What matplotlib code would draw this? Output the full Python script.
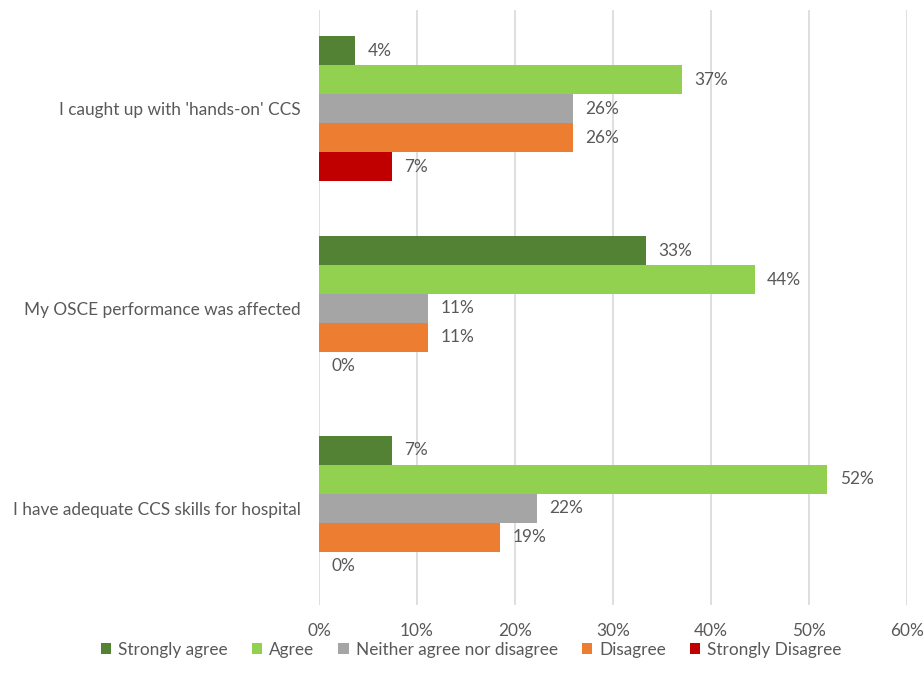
import numpy as np
import matplotlib
matplotlib.use("Agg")
from matplotlib import pyplot as plt
from matplotlib.ticker import FuncFormatter

plt.rcParams['font.family'] = ['Lato', 'DejaVu Sans']

statements = ["I caught up with 'hands-on' CCS",
              "My OSCE performance was affected",
              "I have adequate CCS skills for hospital"]
responses = ["Strongly agree", "Agree", "Neither agree nor disagree",
             "Disagree", "Strongly Disagree"]
colors = ["#548235", "#92D050", "#A5A5A5", "#ED7D31", "#C00000"]

# percent of respondents per statement, one list per response
strongly_agree = [3.70, 33.33, 7.41]
agree = [37.04, 44.44, 51.85]
neither = [25.93, 11.11, 22.22]
disagree = [25.93, 11.11, 18.52]
strongly_disagree = [7.41, 0.0, 0.0]
series = [strongly_agree, agree, neither, disagree, strongly_disagree]

text_col = "#595959"
fs = 12.4
fig = plt.figure(figsize=(9.24, 6.86), dpi=100)
ax = fig.add_axes([0.3452, 0.1181, 0.9816 - 0.3452, 0.9854 - 0.1181])

h = 0.145
y = np.arange(len(statements))
for k, (name, vals, c) in enumerate(zip(responses, series, colors)):
    pos = y - 2 * h + k * h
    bars = ax.barh(pos, vals, height=h, color=c, label=name, zorder=3)
    for b, v in zip(bars, vals):
        ax.annotate("{:.0f}%".format(v), (b.get_width(), b.get_y() + h / 2),
                    xytext=(9, 0), textcoords="offset points",
                    va="center", ha="left", fontsize=fs, color=text_col)

ax.set_ylim(2.485, -0.495)
ax.set_xlim(0, 60)
ax.set_xticks(np.arange(0, 61, 10))
ax.xaxis.set_major_formatter(FuncFormatter(lambda v, p: "{:.0f}%".format(v)))
ax.set_yticks(y)
ax.set_yticklabels(statements)
ax.tick_params(axis="both", length=0, labelsize=fs, labelcolor=text_col)
ax.tick_params(axis="x", pad=13)
ax.tick_params(axis="y", pad=13)
ax.grid(axis="x", color="#D9D9D9", linewidth=1.2, zorder=0)
for s in ax.spines.values():
    s.set_visible(False)

fig.legend(loc="center", bbox_to_anchor=(0.51, 1 - 650 / 686), ncol=5,
           frameon=False, fontsize=fs, handlelength=0.6, handleheight=0.6,
           handletextpad=0.4, columnspacing=1.4, labelcolor=text_col,
           borderpad=0.1)

plt.savefig("out.png", dpi=100)
